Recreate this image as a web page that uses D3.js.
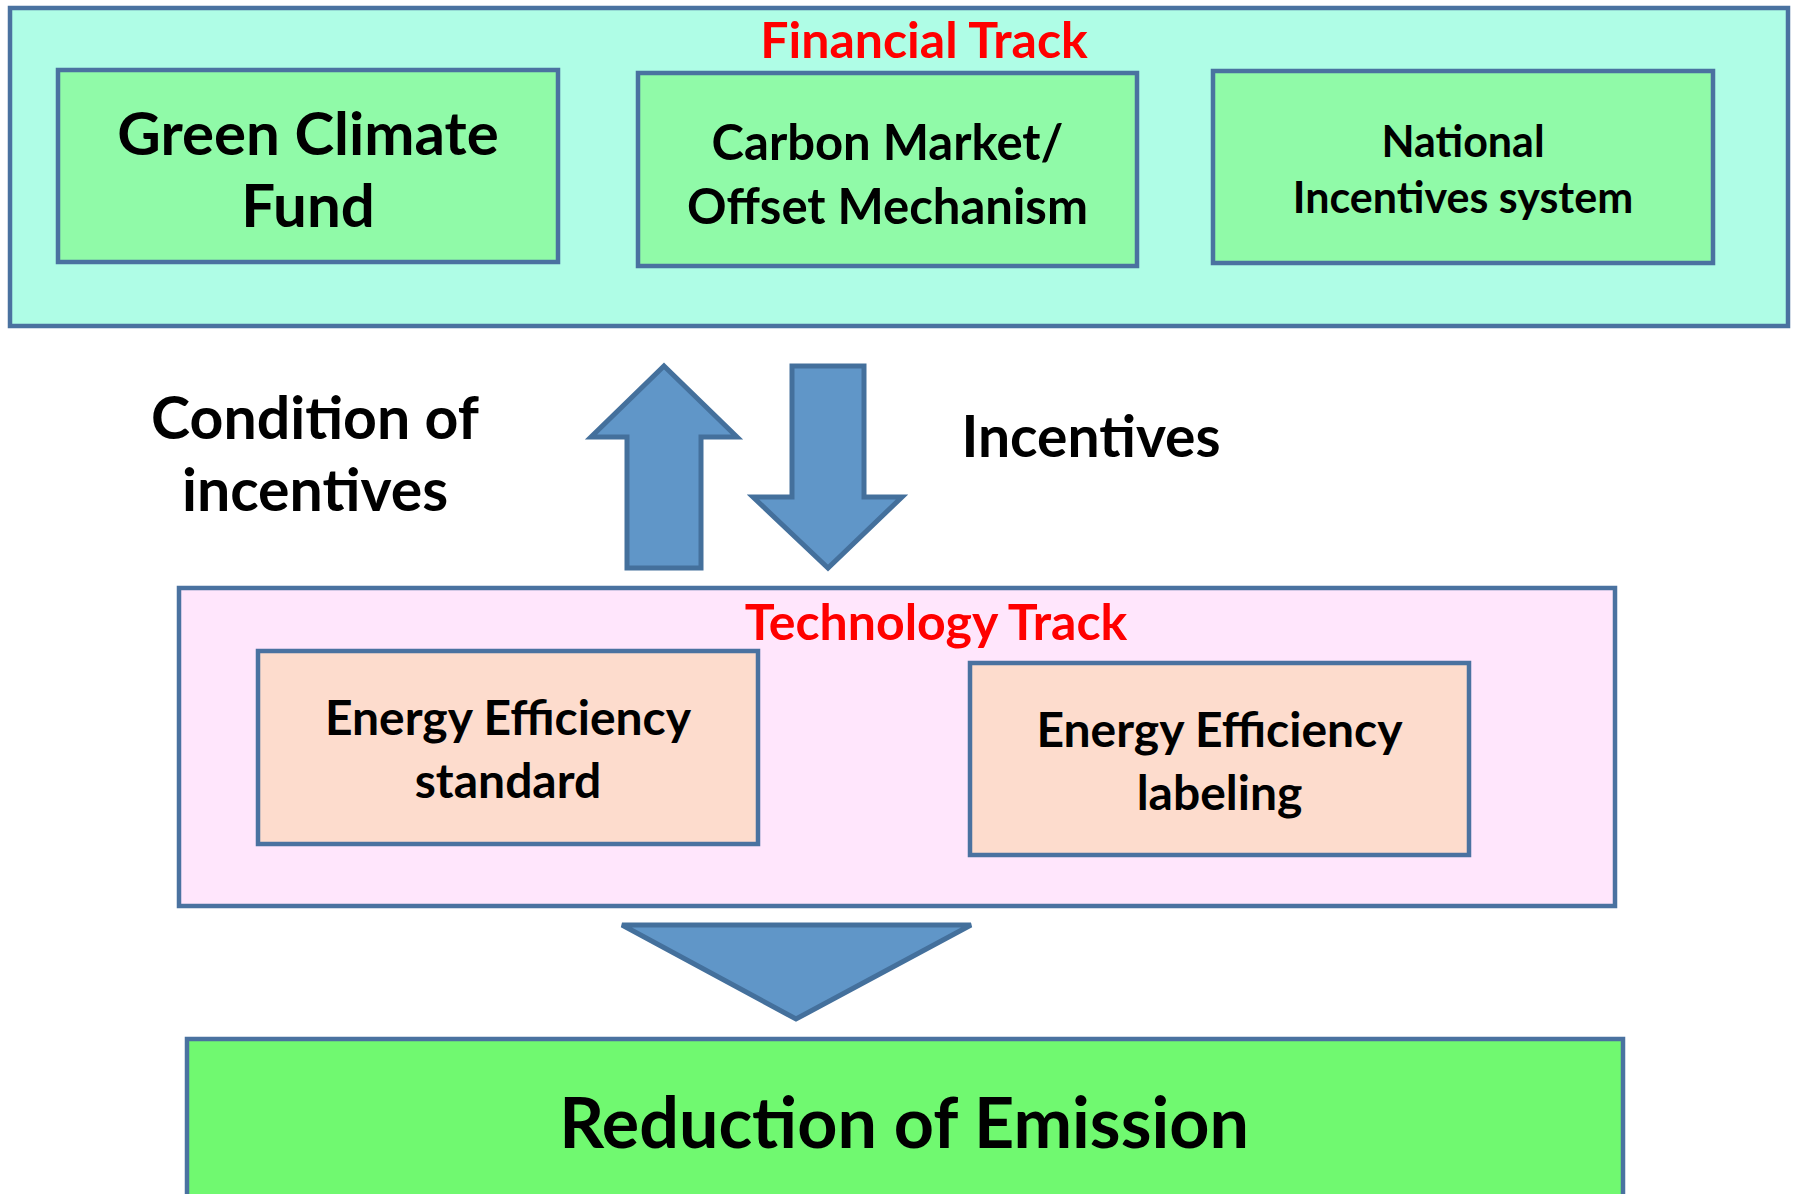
<!DOCTYPE html>
<html>
<head>
<meta charset="utf-8">
<script src="https://cdn.jsdelivr.net/npm/d3@7"></script>
<style>
  body { margin: 0; background: #fff; }
  svg { display: block; }
  text { font-family: Lato, "Open Sans", sans-serif; font-weight: 700; }
</style>
</head>
<body>
<div id="diagram"></div>
<script>
// labels
const trackTitles = ["Financial Track", "Technology Track"];
const financialItems = [["Green Climate", "Fund"], ["Carbon Market/", "Offset Mechanism"], ["National", "Incentives system"]];
const technologyItems = [["Energy Efficiency", "standard"], ["Energy Efficiency", "labeling"]];
const flowLabels = [["Condition of", "incentives"], ["Incentives"]];
const outcomeLabel = "Reduction of Emission";

const width = 1795, height = 1194;

const colors = {
  stroke: "#4A72A0",
  financial: "#AFFDE6",
  financialItem: "#90FAA8",
  technology: "#FFE6FC",
  technologyItem: "#FDDCCD",
  outcome: "#70F970",
  arrow: "#6096C8",
  arrowStroke: "#44709C",
  title: "#FF0000"
};

// layout (pixel geometry of the boxes)
const layout = {
  financial: { x: 10, y: 8, w: 1778, h: 318, titleY: 58, fs: 50 },
  financialBoxes: [
    { x: 58, y: 70, w: 500, h: 192, fs: 60, lines: [155, 227] },
    { x: 638, y: 73, w: 499, h: 193, fs: 49, lines: [160, 224] },
    { x: 1213, y: 71, w: 500, h: 192, fs: 43, lines: [157, 213] }
  ],
  technology: { x: 179, y: 588, w: 1436, h: 318, titleY: 640, fs: 50 },
  technologyBoxes: [
    { x: 258, y: 651, w: 500, h: 193, fs: 48, lines: [735, 798] },
    { x: 970, y: 663, w: 499, h: 192, fs: 48, lines: [747, 810] }
  ],
  outcome: { x: 187, y: 1039, w: 1436, h: 200, fs: 70, lineY: 1148 }
};

const svg = d3.select("#diagram")
  .append("svg")
  .attr("width", width)
  .attr("height", height)
  .attr("viewBox", `0 0 ${width} ${height}`);

function drawBox(g, b, fill) {
  g.append("rect")
    .attr("x", b.x).attr("y", b.y)
    .attr("width", b.w).attr("height", b.h)
    .attr("fill", fill)
    .attr("stroke", colors.stroke)
    .attr("stroke-width", 4.5);
}

function drawLines(g, cx, ys, lines, fs) {
  g.selectAll(null)
    .data(lines)
    .join("text")
    .attr("x", cx)
    .attr("y", (d, i) => ys[i])
    .attr("text-anchor", "middle")
    .attr("font-size", fs)
    .attr("fill", "#000")
    .text(d => d);
}

// financial track
const fin = svg.append("g");
drawBox(fin, layout.financial, colors.financial);
fin.append("text")
  .attr("x", 924).attr("y", layout.financial.titleY)
  .attr("text-anchor", "middle")
  .attr("font-size", layout.financial.fs)
  .attr("fill", colors.title)
  .text(trackTitles[0]);

financialItems.forEach((lines, i) => {
  const b = layout.financialBoxes[i];
  const g = fin.append("g");
  drawBox(g, b, colors.financialItem);
  drawLines(g, b.x + b.w / 2, b.lines, lines, b.fs);
});

// arrows between tracks
const arrows = svg.append("g")
  .attr("fill", colors.arrow)
  .attr("stroke", colors.arrowStroke)
  .attr("stroke-width", 5)
  .attr("stroke-linejoin", "miter");

const upArrow = [[664, 366], [737, 437], [701, 437], [701, 568], [627, 568], [627, 437], [591, 437]];
const downArrow = [[792, 366], [864, 366], [864, 497], [902, 497], [828, 568], [753, 497], [792, 497]];
const line = d3.line().curve(d3.curveLinearClosed);
arrows.append("path").attr("d", line(upArrow));
arrows.append("path").attr("d", line(downArrow));

// flow labels
const flow = svg.append("g");
drawLines(flow, 315, [439, 511], flowLabels[0], 59);
drawLines(flow, 1091, [457], flowLabels[1], 57);

// technology track
const tech = svg.append("g");
drawBox(tech, layout.technology, colors.technology);
tech.append("text")
  .attr("x", 936).attr("y", layout.technology.titleY)
  .attr("text-anchor", "middle")
  .attr("font-size", layout.technology.fs)
  .attr("fill", colors.title)
  .text(trackTitles[1]);

technologyItems.forEach((lines, i) => {
  const b = layout.technologyBoxes[i];
  const g = tech.append("g");
  drawBox(g, b, colors.technologyItem);
  drawLines(g, b.x + b.w / 2, b.lines, lines, b.fs);
});

// triangle to outcome
svg.append("path")
  .attr("d", line([[622, 925], [971, 925], [796, 1019]]))
  .attr("fill", colors.arrow)
  .attr("stroke", colors.arrowStroke)
  .attr("stroke-width", 5);

// outcome
const out = svg.append("g");
drawBox(out, layout.outcome, colors.outcome);
drawLines(out, 904, [layout.outcome.lineY], [outcomeLabel], layout.outcome.fs);
</script>
</body>
</html>
